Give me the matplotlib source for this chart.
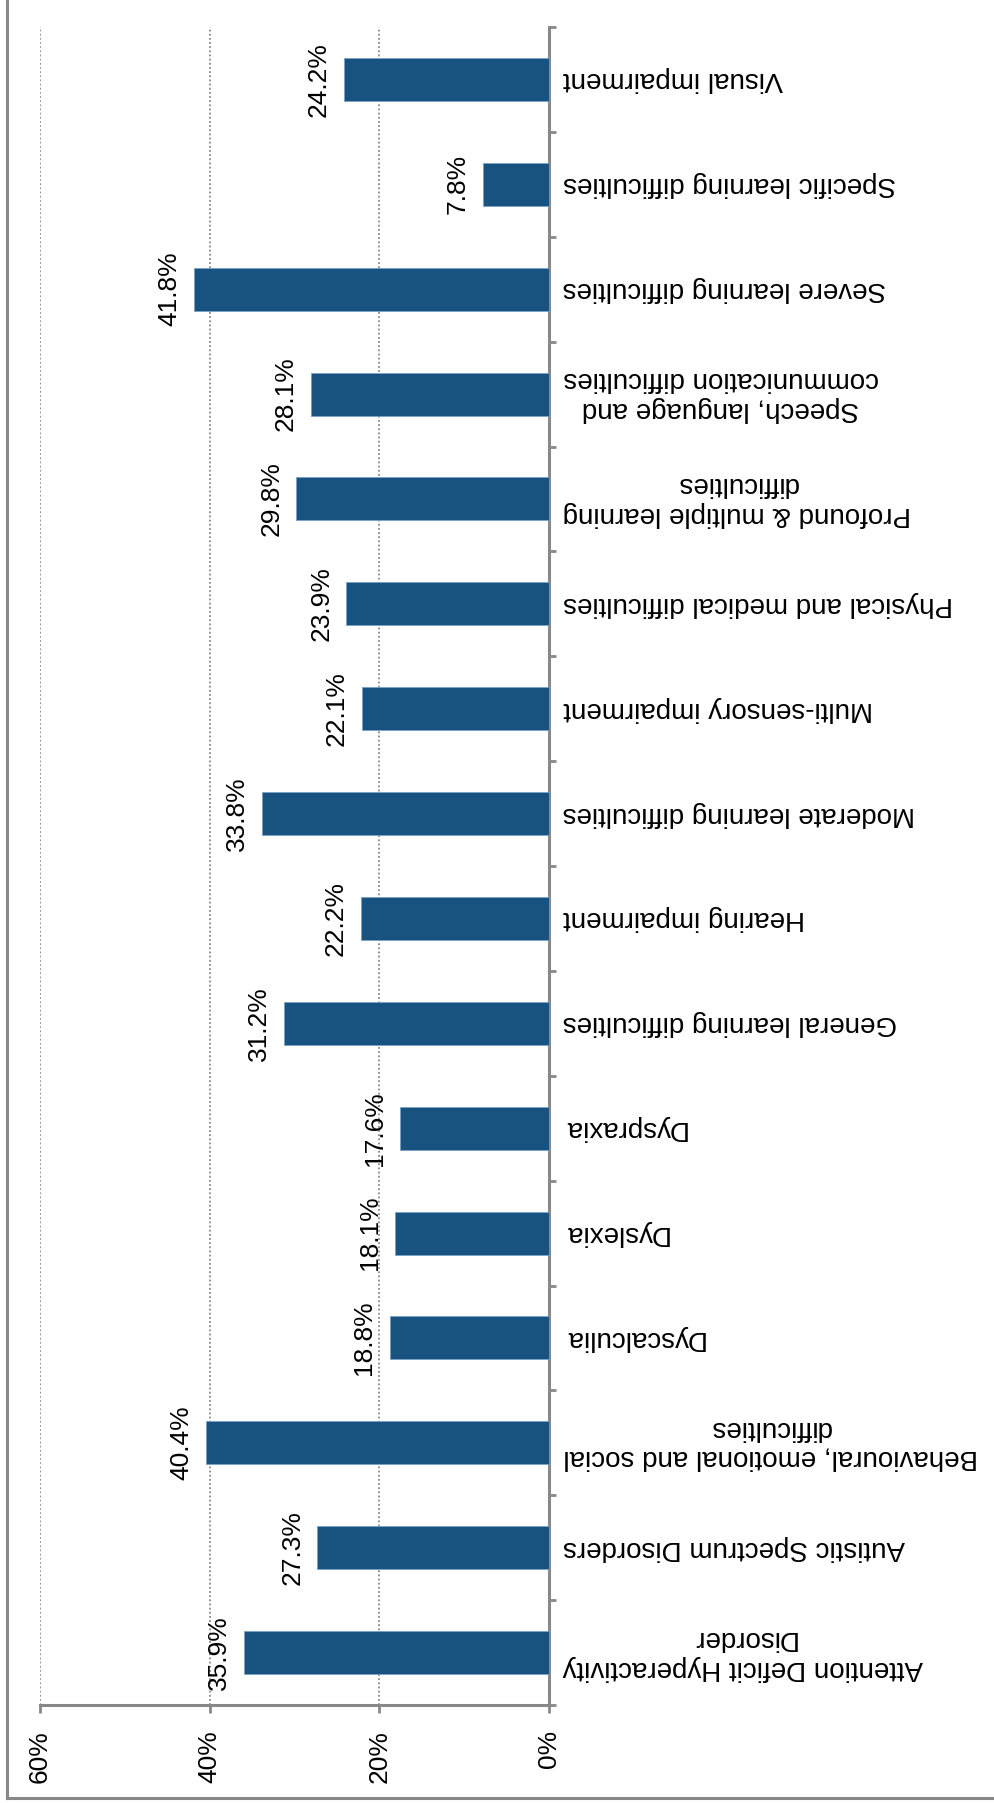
import matplotlib
matplotlib.use("Agg")
import matplotlib.pyplot as plt
from matplotlib.lines import Line2D

categories = [
    "Attention Deficit Hyperactivity\nDisorder",
    "Autistic Spectrum Disorders",
    "Behavioural, emotional and social\ndifficulties",
    "Dyscalculia",
    "Dyslexia",
    "Dyspraxia",
    "General learning difficulties",
    "Hearing impairment",
    "Moderate learning difficulties",
    "Multi-sensory impairment",
    "Physical and medical difficulties",
    "Profound & multiple learning\ndifficulties",
    "Speech, language and\ncommunication difficulties",
    "Severe learning difficulties",
    "Specific learning difficulties",
    "Visual impairment",
]
values = [35.9, 27.3, 40.4, 18.8, 18.1, 17.6, 31.2, 22.2, 33.8, 22.1, 23.9, 29.8, 28.1, 41.8, 7.8, 24.2]
value_ticks = [0, 20, 40, 60]
tick_labels = ["0%", "20%", "40%", "60%"]

plt.rcParams['font.family'] = ['Liberation Sans', 'DejaVu Sans']

W, H = 994, 1803
fig = plt.figure(figsize=(W / 100, H / 100), dpi=100)

ax_left, ax_right = 40 / W, 549 / W
ax_bottom, ax_top = (H - 1705) / H, (H - 27) / H
ax = fig.add_axes([ax_left, ax_bottom, ax_right - ax_left, ax_top - ax_bottom])

gray = '#888888'
bar_color = '#18537f'

ypos = list(range(len(categories)))
ax.barh(ypos, values, height=0.41, color=bar_color, edgecolor='#7aa3c8', linewidth=0.6, zorder=3)

ax.set_xlim(60, 0)
ax.set_ylim(-0.5, len(categories) - 0.5)

# gridlines
for v in value_ticks:
    if v != 0:
        ax.axvline(v, color=gray, linestyle=(0, (1, 1.3)), linewidth=1.3, zorder=1)

# spines
for s in ['top', 'left']:
    ax.spines[s].set_visible(False)
for s in ['bottom', 'right']:
    ax.spines[s].set_color(gray)
    ax.spines[s].set_linewidth(2.2)

ax.set_xticks(value_ticks)
ax.set_xticklabels(tick_labels, rotation=90, fontsize=19)
ax.tick_params(axis='x', direction='out', length=6, width=2, color=gray, pad=12)

ax.yaxis.tick_right()
ax.set_yticks([i - 0.5 for i in range(len(categories) + 1)])
ax.set_yticklabels([])
ax.tick_params(axis='y', direction='out', length=5, width=2, color=gray)

# category labels (upside down)
for i, c in enumerate(categories):
    ax.annotate(c, xy=(0, i), xycoords='data', xytext=(10, 0), textcoords='offset points',
                rotation=180, rotation_mode='anchor', ha='right', va='center',
                multialignment='center', fontsize=20, color='black', annotation_clip=False)

# value labels
for i, v in enumerate(values):
    ax.annotate(f"{v:.1f}%", xy=(v, i), xycoords='data', xytext=(-13, 0), textcoords='offset points',
                rotation=90, rotation_mode='anchor', ha='center', va='baseline',
                fontsize=19, color='black', annotation_clip=False)

# outer frame lines (left and bottom)
fig.add_artist(Line2D([7 / W, 7 / W], [(H - 1798) / H, 1.0], transform=fig.transFigure,
                      color=gray, linewidth=2.2))
fig.add_artist(Line2D([7 / W, 1.0], [(H - 1798) / H, (H - 1798) / H], transform=fig.transFigure,
                      color=gray, linewidth=2.2))

fig.savefig("out.png", dpi=100)
